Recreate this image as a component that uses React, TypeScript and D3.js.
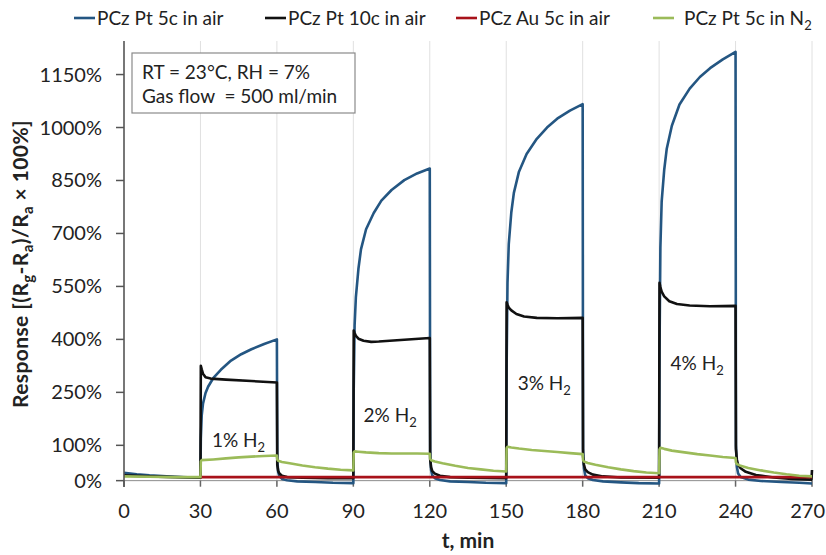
import React from "react";
import * as d3 from "d3";

type Pt = [number, number];

const xTicks = [0, 30, 60, 90, 120, 150, 180, 210, 240, 270];
const yTicks = [0, 100, 250, 400, 550, 700, 850, 1000, 1150];

const legendNames = ["PCz Pt 5c in air", "PCz Pt 10c in air", "PCz Au 5c in air", "PCz Pt 5c in N"];
const seriesColors = ["#245682", "#111111", "#a8121a", "#9bbb59"];

const pt5Air: Pt[] = [
  [0, 22], [5, 18], [10, 15], [20, 11], [30, 8],
  [30.15, 120], [30.5, 185], [31, 218], [32, 248], [33, 266], [35, 290], [38, 314], [42, 340], [46, 358], [50, 372], [55, 387], [60, 400],
  [60.15, 60], [60.5, 25], [61, 12], [62, 5], [64, 1], [68, -2], [75, -4], [82, -6], [90, -7],
  [90.15, 260], [90.5, 440], [91, 520], [92, 600], [93, 655], [95, 712], [98, 758], [101, 793], [105, 823], [110, 851], [115, 870], [120, 884],
  [120.15, 80], [120.5, 30], [121, 15], [122, 7], [124, 2], [128, -2], [135, -4], [142, -6], [150, -7],
  [150.15, 320], [150.5, 560], [151, 670], [152, 760], [153, 815], [155, 875], [158, 925], [162, 968], [166, 1000], [170, 1025], [175, 1048], [180, 1066],
  [180.15, 90], [180.5, 35], [181, 15], [182, 7], [184, 2], [188, -2], [195, -5], [202, -7], [210, -8],
  [210.15, 360], [210.5, 660], [211, 790], [212, 880], [213, 940], [215, 1005], [218, 1065], [222, 1110], [226, 1143], [230, 1168], [235, 1193], [240, 1214],
  [240.15, 100], [240.5, 40], [241, 20], [242, 10], [245, 3], [250, -1], [258, -4], [265, -6], [270, -8],
];

const pt10Air: Pt[] = [
  [0, 15], [10, 12], [20, 10], [30, 8],
  [30.15, 325], [30.5, 315], [31, 303], [32, 293], [34, 289], [40, 286], [50, 282], [60, 278],
  [60.15, 45], [60.5, 28], [61, 20], [62, 14], [64, 10], [70, 8], [80, 7], [90, 7],
  [90.15, 425], [90.5, 418], [91, 410], [92, 402], [94, 396], [97, 393], [100, 394], [110, 399], [120, 404],
  [120.15, 60], [120.5, 38], [121, 27], [122, 20], [124, 14], [128, 10], [135, 8], [150, 7],
  [150.15, 505], [150.5, 498], [151, 490], [152, 482], [154, 472], [157, 465], [162, 461], [170, 460], [180, 461],
  [180.15, 70], [180.5, 45], [181, 32], [182, 24], [184, 17], [188, 12], [195, 9], [210, 8],
  [210.15, 560], [210.5, 548], [211, 535], [212, 522], [214, 508], [217, 500], [222, 496], [230, 494], [240, 495],
  [240.15, 90], [240.5, 60], [241, 45], [242, 35], [244, 25], [248, 16], [255, 9], [262, 5], [269.8, 3], [270, 30],
];

const au5Air: Pt[] = [
  [30, 10], [60, 10], [90, 10], [120, 10], [150, 10], [180, 10], [210, 10], [240, 10], [270, 10],
];

const pt5N2: Pt[] = [
  [0, 12], [10, 11], [20, 10], [30, 10],
  [30.15, 55], [30.5, 58], [35, 60], [40, 63], [45, 66], [50, 68], [55, 70], [60, 71],
  [60.15, 60], [60.5, 56], [62, 53], [65, 49], [70, 43], [75, 38], [80, 34], [85, 31], [90, 29],
  [90.15, 80], [90.5, 83], [92, 82], [95, 80], [100, 78], [105, 77], [110, 77], [115, 77], [120, 76],
  [120.15, 62], [120.5, 58], [122, 54], [125, 49], [130, 42], [135, 36], [140, 32], [145, 28], [150, 26],
  [150.15, 92], [150.5, 96], [152, 94], [155, 91], [160, 87], [165, 84], [170, 81], [175, 78], [180, 75],
  [180.15, 58], [180.5, 54], [182, 50], [185, 45], [190, 38], [195, 32], [200, 27], [205, 23], [210, 21],
  [210.15, 88], [210.5, 93], [212, 90], [215, 85], [220, 80], [225, 75], [230, 71], [235, 67], [240, 64],
  [240.15, 52], [240.5, 47], [242, 42], [245, 36], [250, 29], [255, 23], [260, 18], [265, 14], [270, 12],
];

const pulseLabels = ["1%", "2%", "3%", "4%"];
const pulseLabelPos: Pt[] = [[34.5, 96], [94, 167], [154.5, 258], [214.5, 312]];

const FONT = "Lato, 'Open Sans', sans-serif";

export default function App() {
  const W = 826, H = 555;
  const x = d3.scaleLinear().domain([0, 270]).range([124, 812]);
  const y = d3.scaleLinear().domain([-18, 1245]).range([487, 41]);
  const line = d3.line<Pt>().x((d) => x(d[0])).y((d) => y(d[1]));
  const series = [pt5Air, pt10Air, au5Air, pt5N2];
  const legendX = [74, 265, 456, 653];

  return (
    <svg width={W} height={H} style={{ position: "absolute", left: 0, top: 0, background: "#fff" }} fontFamily={FONT}>
      <rect x={0} y={0} width={W} height={H} fill="#fff" />
      {xTicks.slice(1).map((t) => (
        <line key={"g" + t} x1={x(t)} x2={x(t)} y1={41} y2={487} stroke="#e0e0e0" strokeWidth={1} />
      ))}
      <line x1={x(0)} x2={x(270)} y1={y(0)} y2={y(0)} stroke="#8c8c8c" strokeWidth={1} />
      {xTicks.map((t) => (
        <line key={"xt" + t} x1={x(t)} x2={x(t)} y1={y(0)} y2={y(0) + 6} stroke="#666" strokeWidth={1.5} />
      ))}
      {series.map((s, i) => (
        <path key={"s" + i} d={line(s) || ""} fill="none" stroke={seriesColors[i]} strokeWidth={2.6} strokeLinejoin="round" />
      ))}
      <line x1={x(0)} x2={x(0)} y1={41} y2={487} stroke="#555" strokeWidth={1.6} />
      {yTicks.map((v) => (
        <g key={"yt" + v}>
          <line x1={x(0) - 8} x2={x(0)} y1={y(v)} y2={y(v)} stroke="#555" strokeWidth={1.5} />
          <text x={102} y={y(v)} dy="0.35em" textAnchor="end" fontSize={20} fill="#222">{v}%</text>
        </g>
      ))}
      {xTicks.map((t, i) => (
        <text key={"xl" + t} x={i === xTicks.length - 1 ? W - 1 : x(t)} y={518}
          textAnchor={i === xTicks.length - 1 ? "end" : "middle"} fontSize={20} fill="#222">{t}</text>
      ))}
      <text x={468} y={548} textAnchor="middle" fontSize={21} fontWeight="bold" fill="#222">t, min</text>
      <text transform="translate(28,264) rotate(-90)" textAnchor="middle" fontSize={21} fontWeight="bold" fill="#222" letterSpacing={0.4}>
        Response [(R<tspan dy={5} fontSize={15}>g</tspan><tspan dy={-5}>-R</tspan><tspan dy={5} fontSize={15}>a</tspan>
        <tspan dy={-5}>)/R</tspan><tspan dy={5} fontSize={15}>a</tspan><tspan dy={-5}>{"\u00a0×\u00a0100%]"}</tspan>
      </text>
      <rect x={132} y={53} width={223} height={60} fill="#fff" stroke="#8a8a8a" strokeWidth={1.2} />
      <text x={142} y={79} fontSize={19} fill="#222">RT = 23°C, RH = 7%</text>
      <text x={142} y={103} fontSize={19} fill="#222">{"Gas flow\u00a0 = 500 ml/min"}</text>
      {pulseLabels.map((l, i) => (
        <text key={"pl" + i} x={x(pulseLabelPos[i][0])} y={y(pulseLabelPos[i][1])} fontSize={19} fill="#222">
          {l} H<tspan dy={5} fontSize={13}>2</tspan>
        </text>
      ))}
      {legendNames.map((n, i) => (
        <g key={"lg" + i}>
          <line x1={legendX[i]} x2={legendX[i] + 21} y1={18} y2={18} stroke={seriesColors[i]} strokeWidth={2.6} />
          <text x={legendX[i] + (i === 3 ? 31 : 23)} y={25} fontSize={19} fill="#222">
            {n}
            {i === 3 ? <tspan dy={5} fontSize={13}>2</tspan> : null}
          </text>
        </g>
      ))}
    </svg>
  );
}
